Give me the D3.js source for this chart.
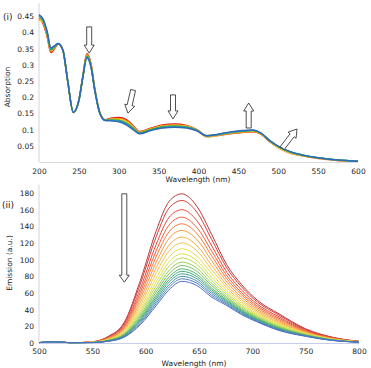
<!DOCTYPE html>
<html>
<head>
<meta charset="utf-8">
<script src="https://cdnjs.cloudflare.com/ajax/libs/d3/7.8.5/d3.min.js"></script>
<style>
  body { margin: 0; background: #fff; }
  svg text { font-family: "DejaVu Sans", Verdana, sans-serif; fill: #222; }
</style>
</head>
<body>
<svg id="chart" width="371" height="368"></svg>
<script>
// ---- panel (i): absorption ----
var absWavelengths = [200, 205, 210, 215, 220, 224, 230, 236, 243, 250, 255, 260, 265, 270, 276, 283, 290, 300, 310, 318, 326, 340, 355, 370, 385, 398, 410, 425, 440, 455, 468, 478, 490, 502, 515, 530, 550, 575, 600];
var absRed    = [0.442, 0.428, 0.390, 0.338, 0.352, 0.364, 0.345, 0.250, 0.153, 0.190, 0.265, 0.334, 0.305, 0.225, 0.155, 0.130, 0.135, 0.137, 0.130, 0.112, 0.094, 0.104, 0.114, 0.117, 0.113, 0.100, 0.081, 0.083, 0.088, 0.092, 0.094, 0.087, 0.062, 0.043, 0.029, 0.020, 0.012, 0.005, 0.002];
var absOrange = [0.444, 0.431, 0.393, 0.341, 0.354, 0.364, 0.345, 0.250, 0.153, 0.190, 0.264, 0.332, 0.303, 0.224, 0.154, 0.130, 0.133, 0.134, 0.127, 0.110, 0.093, 0.103, 0.112, 0.115, 0.111, 0.099, 0.078, 0.082, 0.087, 0.091, 0.093, 0.086, 0.061, 0.041, 0.027, 0.019, 0.011, 0.005, 0.002];
var absYellow = [0.438, 0.432, 0.396, 0.344, 0.355, 0.365, 0.345, 0.250, 0.153, 0.190, 0.264, 0.329, 0.301, 0.223, 0.154, 0.129, 0.132, 0.132, 0.124, 0.107, 0.091, 0.101, 0.110, 0.113, 0.110, 0.098, 0.079, 0.084, 0.090, 0.094, 0.096, 0.088, 0.063, 0.042, 0.028, 0.020, 0.012, 0.005, 0.002];
var absGreen  = [0.450, 0.436, 0.399, 0.346, 0.357, 0.365, 0.345, 0.250, 0.153, 0.190, 0.263, 0.327, 0.299, 0.222, 0.153, 0.129, 0.130, 0.129, 0.120, 0.105, 0.090, 0.100, 0.109, 0.111, 0.108, 0.098, 0.081, 0.085, 0.091, 0.095, 0.097, 0.089, 0.064, 0.045, 0.031, 0.021, 0.013, 0.006, 0.002];
var absTeal   = [0.452, 0.439, 0.402, 0.349, 0.358, 0.366, 0.345, 0.250, 0.153, 0.190, 0.263, 0.324, 0.297, 0.221, 0.153, 0.128, 0.129, 0.127, 0.117, 0.102, 0.088, 0.098, 0.107, 0.109, 0.107, 0.097, 0.081, 0.085, 0.092, 0.096, 0.098, 0.089, 0.064, 0.045, 0.031, 0.022, 0.013, 0.006, 0.002];
var absBlue   = [0.455, 0.442, 0.405, 0.352, 0.360, 0.366, 0.345, 0.250, 0.153, 0.190, 0.262, 0.322, 0.295, 0.220, 0.152, 0.128, 0.127, 0.124, 0.114, 0.100, 0.087, 0.097, 0.105, 0.107, 0.105, 0.096, 0.081, 0.086, 0.093, 0.097, 0.099, 0.090, 0.065, 0.046, 0.032, 0.022, 0.013, 0.006, 0.002];
var absSeries = [absRed, absOrange, absYellow, absGreen, absTeal, absBlue];
var absXTicks = [200, 250, 300, 350, 400, 450, 500, 550, 600];
var absYTicks = [0.05, 0.1, 0.15, 0.2, 0.25, 0.3, 0.35, 0.4, 0.45];
var absYTickLabels = ['0.05', '0.1', '0.15', '0.2', '0.25', '0.3', '0.35', '0.4', '0.45'];
// arrows: [tail wavelength, tail value, tip wavelength, tip value]
var absArrows = [
  [263, 0.417, 263, 0.336],
  [318, 0.222, 311.5, 0.151],
  [368, 0.207, 368, 0.133],
  [463, 0.105, 463, 0.182],
  [505, 0.043, 523.5, 0.102]
];

// ---- panel (ii): emission ----
var emWavelengths = [500, 515, 530, 550, 565, 580, 595, 610, 622, 634, 648, 662, 676, 690, 705, 725, 750, 775, 800];
var em0  = [0.5, 1.5, 0.3, 1.5, 8.0, 25.0, 75.0, 135.0, 170.0, 179, 164.0, 130.0, 94.0, 70.0, 51.0, 35.0, 17.0, 7.0, 2.0];
var em1  = [0.5, 1.5, 0.3, 1.4, 7.5, 23.6, 71.0, 128.0, 162.0, 171, 157.0, 124.0, 90.3, 67.3, 49.0, 33.5, 16.3, 6.7, 1.9];
var em2  = [0.5, 1.5, 0.3, 1.3, 6.9, 21.7, 65.4, 118.7, 150.8, 160, 146.8, 116.4, 85.1, 63.5, 46.3, 31.4, 15.4, 6.3, 1.8];
var em3  = [0.5, 1.5, 0.3, 1.2, 6.4, 20.2, 60.8, 111.0, 141.7, 151, 138.6, 110.0, 80.9, 60.4, 44.1, 29.7, 14.6, 5.9, 1.7];
var em4  = [0.5, 1.5, 0.3, 1.2, 5.9, 18.8, 56.8, 104.1, 133.6, 143, 131.4, 104.3, 77.2, 57.7, 42.1, 28.1, 13.9, 5.6, 1.7];
var em5  = [0.5, 1.5, 0.3, 1.1, 5.5, 17.5, 52.8, 97.3, 125.6, 135, 124.2, 98.6, 73.5, 54.9, 40.1, 26.6, 13.2, 5.3, 1.6];
var em6  = [0.5, 1.5, 0.3, 1.0, 5.0, 16.1, 48.8, 90.5, 117.5, 127, 117.0, 92.9, 69.7, 52.2, 38.1, 25.1, 12.5, 5.0, 1.5];
var em7  = [0.5, 1.5, 0.3, 0.9, 4.6, 14.9, 45.2, 84.4, 110.4, 120, 110.6, 87.9, 66.5, 49.8, 36.4, 23.8, 11.9, 4.8, 1.4];
var em8  = [0.5, 1.5, 0.3, 0.9, 4.2, 13.7, 41.7, 78.4, 103.3, 113, 104.2, 82.8, 63.2, 47.4, 34.6, 22.4, 11.3, 4.5, 1.4];
var em9  = [0.5, 1.5, 0.3, 0.8, 3.9, 12.7, 38.6, 73.3, 97.3, 107, 98.8, 78.6, 60.4, 45.3, 33.2, 21.3, 10.8, 4.3, 1.3];
var em10 = [0.5, 1.5, 0.3, 0.8, 3.6, 11.8, 36.2, 69.0, 92.3, 102, 94.4, 75.0, 58.1, 43.6, 31.9, 20.3, 10.4, 4.1, 1.3];
var em11 = [0.5, 1.5, 0.3, 0.7, 3.3, 10.9, 33.6, 64.7, 87.2, 97, 89.8, 71.4, 55.7, 41.9, 30.7, 19.4, 10.0, 3.9, 1.2];
var em12 = [0.5, 1.5, 0.3, 0.7, 3.1, 10.3, 31.6, 61.3, 83.2, 93, 86.2, 68.6, 53.9, 40.5, 29.7, 18.6, 9.6, 3.7, 1.2];
var em13 = [0.5, 1.5, 0.3, 0.6, 2.9, 9.6, 29.6, 57.9, 79.2, 89, 82.6, 65.7, 52.0, 39.1, 28.7, 17.9, 9.3, 3.6, 1.1];
var em14 = [0.5, 1.5, 0.3, 0.6, 2.7, 9.1, 28.0, 55.3, 76.1, 86, 79.8, 63.6, 50.6, 38.1, 28.0, 17.3, 9.0, 3.5, 1.1];
var em15 = [0.5, 1.5, 0.3, 0.6, 2.5, 8.5, 26.6, 52.7, 73.1, 83, 77.2, 61.5, 49.2, 37.1, 27.2, 16.7, 8.8, 3.3, 1.1];
var em16 = [0.5, 1.5, 0.3, 0.6, 2.3, 8.0, 25.0, 50.1, 70.0, 80, 74.4, 59.3, 47.8, 36.1, 26.5, 16.1, 8.5, 3.2, 1.1];
var em17 = [0.5, 1.5, 0.3, 0.5, 2.2, 7.5, 23.5, 47.6, 67.1, 77, 71.8, 57.2, 46.4, 35.0, 25.8, 15.6, 8.3, 3.1, 1.0];
var em18 = [0.5, 1.5, 0.3, 0.5, 2.0, 7.0, 22.0, 45.0, 64.0, 74, 69.0, 55.0, 45.0, 34.0, 25.0, 15.0, 8.0, 3.0, 1.0];
var emSeries = [em0, em1, em2, em3, em4, em5, em6, em7, em8, em9, em10, em11, em12, em13, em14, em15, em16, em17, em18];
var emXTicks = [500, 550, 600, 650, 700, 750, 800];
var emYTicks = [0, 20, 40, 60, 80, 100, 120, 140, 160, 180];
var emArrows = [
  [580, 179, 580, 73]
];

var absColors = ['#e3161c', '#f47c20', '#f2cf1a', '#43a83a', '#2aa3a8', '#3068b6'];
var emColors = ['#b7393b', '#d63a3a', '#e8463a', '#ef5e39', '#f2793a', '#f5953f', '#f6ad48', '#f1c54a', '#eada49', '#d6df4b',
                '#b6d851', '#95cb58', '#74bf5f', '#55b367', '#45a87a', '#40a08f', '#4a8fb0', '#5380c0', '#4f6fc6'];

var svg = d3.select('#chart');
var fontSize = 7.5;

//scales
var xAbs = d3.scaleLinear().domain([200, 600]).range([39, 358]);
var yAbs = d3.scaleLinear().domain([0, 0.5]).range([162, 0]);
var xEm = d3.scaleLinear().domain([500, 800]).range([39, 359]);
var yEm = d3.scaleLinear().domain([0, 180]).range([343, 193]);

function drawAxes(x, y, xTicks, yTicks, yLabels, xPad, axisColor, yTop) {
  var gx = svg.append('g')
    .attr('transform', 'translate(0,' + y.range()[0] + ')')
    .call(d3.axisBottom(x).tickValues(xTicks).tickSize(0).tickPadding(xPad).tickFormat(d3.format('d')));
  gx.select('.domain').attr('stroke', axisColor);
  gx.selectAll('text').style('font-size', fontSize + 'px');

  var gy = svg.append('g')
    .attr('transform', 'translate(' + x.range()[0] + ',0)')
    .call(d3.axisLeft(y).tickValues(yTicks).tickSize(0).tickPadding(5)
      .tickFormat(function (d, i) { return yLabels ? yLabels[i] : d; }));
  gy.select('.domain').attr('d', 'M0,' + y.range()[0] + 'V' + y(yTop)).attr('stroke', '#d4d4dc');
  gy.selectAll('text').style('font-size', fontSize + 'px');
}

function arrowPath(x1, y1, x2, y2, shaftW, headW, headL) {
  var dx = x2 - x1, dy = y2 - y1;
  var len = Math.sqrt(dx * dx + dy * dy);
  var ux = dx / len, uy = dy / len;
  var px = -uy, py = ux;
  var bx = x2 - ux * headL, by = y2 - uy * headL;
  var pts = [
    [x1 + px * shaftW / 2, y1 + py * shaftW / 2],
    [bx + px * shaftW / 2, by + py * shaftW / 2],
    [bx + px * headW / 2, by + py * headW / 2],
    [x2, y2],
    [bx - px * headW / 2, by - py * headW / 2],
    [bx - px * shaftW / 2, by - py * shaftW / 2],
    [x1 - px * shaftW / 2, y1 - py * shaftW / 2]
  ];
  return 'M' + pts.map(function (p) { return p[0].toFixed(1) + ',' + p[1].toFixed(1); }).join('L') + 'Z';
}

function drawArrows(list, x, y, headL) {
  svg.append('g').selectAll('path')
    .data(list)
    .enter()
    .append('path')
    .attr('d', function (a) { return arrowPath(x(a[0]), y(a[1]), x(a[2]), y(a[3]), 5, 10, headL); })
    .attr('fill', '#fff')
    .attr('stroke', '#222')
    .attr('stroke-width', 0.8);
}

// panel (i)
drawAxes(xAbs, yAbs, absXTicks, absYTicks, absYTickLabels, 6.5, '#d8d8e0', 0.49);

var absLine = d3.line()
  .x(function (d, i) { return xAbs(absWavelengths[i]); })
  .y(function (d) { return yAbs(d); })
  .curve(d3.curveMonotoneX);

svg.append('g').selectAll('path')
  .data(absSeries)
  .enter()
  .append('path')
  .attr('d', absLine)
  .attr('fill', 'none')
  .attr('stroke', function (d, i) { return absColors[i]; })
  .attr('stroke-width', 1.5);

drawArrows(absArrows, xAbs, yAbs, 8);

// panel (ii)
drawAxes(xEm, yEm, emXTicks, emYTicks, null, 5.5, '#c8cde8', 190);

var emLine = d3.line()
  .x(function (d, i) { return xEm(emWavelengths[i]); })
  .y(function (d) { return yEm(d); })
  .curve(d3.curveMonotoneX);

svg.append('g').selectAll('path')
  .data(emSeries)
  .enter()
  .append('path')
  .attr('d', emLine)
  .attr('fill', 'none')
  .attr('stroke', function (d, i) { return emColors[i]; })
  .attr('stroke-width', 1);

drawArrows(emArrows, xEm, yEm, 7);

// labels
svg.append('text').attr('x', 3).attr('y', 20).style('font-size', '9px').text('(i)');
svg.append('text').attr('x', 2).attr('y', 208).style('font-size', '9px').text('(ii)');

svg.append('text')
  .attr('transform', 'translate(10,87) rotate(-90)')
  .attr('text-anchor', 'middle')
  .style('font-size', fontSize + 'px')
  .text('Absorption');
svg.append('text')
  .attr('transform', 'translate(12,263) rotate(-90)')
  .attr('text-anchor', 'middle')
  .style('font-size', fontSize + 'px')
  .text('Emission (a.u.)');

svg.append('text').attr('x', 198).attr('y', 182).attr('text-anchor', 'middle')
  .style('font-size', fontSize + 'px').text('Wavelength (nm)');
svg.append('text').attr('x', 194).attr('y', 366).attr('text-anchor', 'middle')
  .style('font-size', fontSize + 'px').text('Wavelength (nm)');
</script>
</body>
</html>
